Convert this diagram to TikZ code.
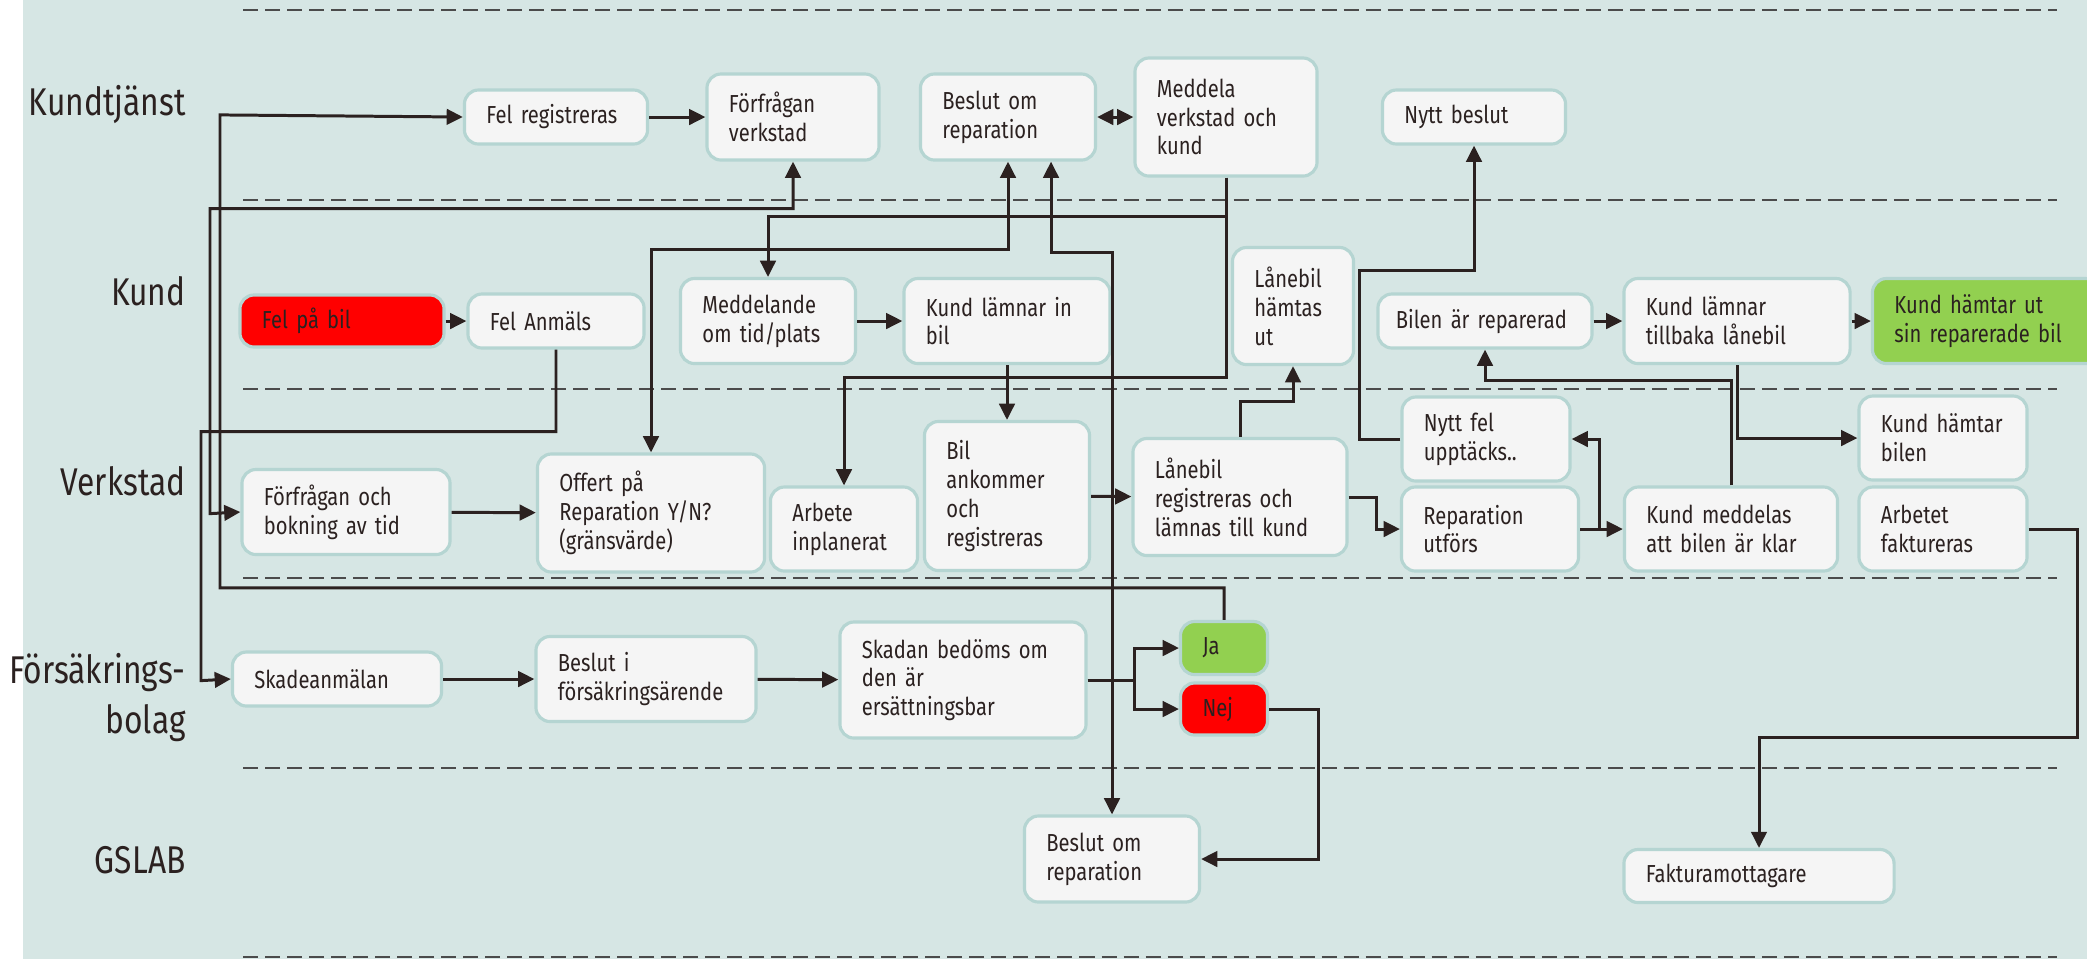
\documentclass[tikz,border=0pt]{standalone}
\usepackage{fontspec}
\setmainfont{Fira Sans}[FakeStretch=0.82]
\usepackage{xcolor}
\usepackage{tikz}
\usetikzlibrary{arrows.meta}

\definecolor{lanebg}{RGB}{214,230,228}
\definecolor{boxfill}{RGB}{245,245,245}
\definecolor{boxedge}{RGB}{181,213,210}
\definecolor{ink}{RGB}{43,33,32}
\definecolor{dashgray}{RGB}{75,75,75}
\definecolor{jagreen}{RGB}{146,208,80}
\definecolor{nejred}{RGB}{255,0,0}

\hyphenpenalty=10000
\exhyphenpenalty=10000
\newcommand{\flowfont}{\fontsize{7}{8.2}\selectfont}
\newcommand{\lanefont}{\fontsize{11}{14.2}\selectfont}

\begin{document}
\begin{tikzpicture}[x=0.01cm, y=-0.01cm, ->, >={Triangle[length=4.6pt,width=4.4pt]}, line width=0.85pt, color=ink]
    \tikzstyle{box} = [draw=boxedge, fill=boxfill, line width=0.9pt, rounded corners=4pt, align=left, inner xsep=0.22cm, inner ysep=0pt, font=\flowfont, text=ink]
    \tikzstyle{lane} = [anchor=base east, align=right, inner sep=0pt, font=\lanefont, text=ink]
    \tikzstyle{sep} = [-, dashgray, line width=0.75pt, dash pattern=on 0.15cm off 0.07cm]

    \useasboundingbox (0,0) rectangle (2087,959);
    \fill[lanebg] (23,0) rectangle (2087,959);
    \foreach \y in {10,200,389,578,768,957}
        \draw[sep] (243,\y) -- (2057,\y);

    % swimlanes
    \node [lane] at (187,115) (kundtjanst) {Kundtjänst};
    \node [lane] at (187,305) (kund) {Kund};
    \node [lane] at (187,495) (verkstad) {Verkstad};
    \node [lane] at (187,733) (forsakring) {Försäkrings-\\bolag};
    \node [lane] at (187,873) (gslab) {GSLAB};

    % Kundtjänst
    \node [box, text width=1.39cm, minimum height=0.54cm] at (556,117) (felreg) {Fel registreras};
    \node [box, text width=1.28cm, minimum height=0.86cm] at (793,117) (forfragan) {Förfrågan\\verkstad};
    \node [box, text width=1.31cm, minimum height=0.86cm] at (1008,117) (beslut) {Beslut om\\reparation};
    \node [box, text width=1.38cm, minimum height=1.18cm] at (1226,117) (meddela) {Meddela\\verkstad och\\kund};
    \node [box, text width=1.39cm, minimum height=0.54cm] at (1474,117) (nyttbeslut) {Nytt beslut};

    % Kund
    \node [box, fill=nejred, text width=1.60cm, minimum height=0.52cm] at (342,321) (felbil) {Fel på bil};
    \node [box, text width=1.32cm, minimum height=0.54cm] at (556,321) (felanm) {Fel Anmäls};
    \node [box, text width=1.31cm, minimum height=0.85cm] at (768,321) (meddelande) {Meddelande\\om tid/plats};
    \node [box, text width=1.62cm, minimum height=0.85cm] at (1007,321) (lamnarin) {Kund lämnar in\\bil};
    \node [box, text width=0.77cm, minimum height=1.17cm] at (1293,306) (lanehamtas) {Lånebil\\hämtas\\ut};
    \node [box, text width=1.78cm, inner xsep=0.18cm, minimum height=0.54cm] at (1485,321) (bilenrep) {Bilen är reparerad};
    \node [box, text width=1.82cm, minimum height=0.85cm] at (1737,321) (lamnartb) {Kund lämnar\\tillbaka lånebil};
    \node [box, fill=jagreen, text width=1.83cm, minimum height=0.85cm] at (1986,321) (hamtarut) {Kund hämtar ut\\sin reparerade bil};

    % Verkstad
    \node [box, text width=1.64cm, minimum height=0.85cm] at (346,512) (bokning) {Förfrågan och\\bokning av tid};
    \node [box, text width=1.83cm, minimum height=1.18cm] at (651,513) (offert) {Offert på\\Reparation Y/N?\\(gränsvärde)};
    \node [box, text width=1.03cm, minimum height=0.84cm] at (844,529) (arbete) {Arbete\\inplanerat};
    \node [box, text width=1.21cm, minimum height=1.49cm] at (1007,496) (bilank) {Bil\\ankommer\\och\\registreras};
    \node [box, text width=1.70cm, minimum height=1.17cm] at (1240,497) (lanereg) {Lånebil\\registreras och\\lämnas till kund};
    \node [box, text width=1.24cm, minimum height=0.84cm] at (1486,439) (nyttfel) {Nytt fel\\upptäcks..};
    \node [box, text width=1.33cm, minimum height=0.84cm] at (1490,529) (reputf) {Reparation\\utförs};
    \node [box, text width=1.69cm, minimum height=0.84cm] at (1731,529) (meddelas) {Kund meddelas\\att bilen är klar};
    \node [box, text width=1.24cm, minimum height=0.84cm] at (1943,438) (hamtarbil) {Kund hämtar\\bilen};
    \node [box, text width=1.24cm, minimum height=0.84cm] at (1943,529) (faktureras) {Arbetet\\faktureras};

    % Försäkringsbolag
    \node [box, text width=1.65cm, minimum height=0.54cm] at (337,679) (skade) {Skadeanmälan};
    \node [box, text width=1.76cm, minimum height=0.85cm] at (646,679) (beslutfors) {Beslut i\\försäkringsärende};
    \node [box, text width=2.02cm, minimum height=1.16cm] at (963,680) (skadan) {Skadan bedöms om\\den är\\ersättningsbar};
    \node [box, fill=jagreen, text width=0.43cm, minimum height=0.53cm] at (1224,648) (ja) {Ja};
    \node [box, fill=nejred, text width=0.43cm, minimum height=0.52cm] at (1224,709) (nej) {Nej};

    % GSLAB
    \node [box, text width=1.31cm, minimum height=0.86cm] at (1112,859) (beslutgs) {Beslut om\\reparation};
    \node [box, text width=2.26cm, minimum height=0.53cm] at (1759,876) (faktmott) {Fakturamottagare};

    \draw (felbil) -- (felanm);
    \draw (felanm.south) -- ++(0,82) -| ++(-355,249) -- (skade.west);
    \draw (felreg) -- (forfragan);
    \draw[<->] (beslut) -- (meddela);
    \draw (ja.north) -- ++(0,-32) -| ++(-1004,-473) -- (felreg.west);
    \draw[<->] (forfragan.south) -- ++(0,47) -| ++(-583,305) -- (bokning.west);
    \draw (bokning) -- (offert);
    \draw[<->] (beslut.south) -- ++(0,88) -| (offert.north);
    \draw[<->] ([xshift=0.43cm]beslut.south) -- ++(0,91) -| (beslutgs.north);
    \draw (meddela.south) -- ++(0,39) -| (meddelande.north);
    \draw (meddela.south) -- ++(0,200) -| (arbete.north);
    \draw (meddelande) -- (lamnarin);
    \draw (lamnarin) -- (bilank);
    \draw (bilank) -- (lanereg);
    \draw (lanereg.north) -- ++(0,-35) -| (lanehamtas.south);
    \draw (lanereg.east) -- ++(28,0) |- (reputf.west);
    \draw (reputf) -- (meddelas);
    \draw (reputf.east) -- ++(19,0) |- (nyttfel.east);
    \draw (nyttfel.west) -| ++(-41,-169) -| (nyttbeslut.south);
    \draw (meddelas.north) -- ++(0,-105) -| (bilenrep.south);
    \draw (bilenrep) -- (lamnartb);
    \draw (lamnartb) -- (hamtarut);
    \draw (lamnartb.south) |- (hamtarbil.west);
    \draw (faktureras.east) -| ++(49,208) -| (faktmott.north);
    \draw (skade) -- (beslutfors);
    \draw (beslutfors) -- (skadan);
    \draw (skadan.east) -- ++(47,0) |- (ja.west);
    \draw (skadan.east) -- ++(47,0) |- (nej.west);
    \draw (nej.east) -- ++(49,0) |- (beslutgs.east);
\end{tikzpicture}
\end{document}
